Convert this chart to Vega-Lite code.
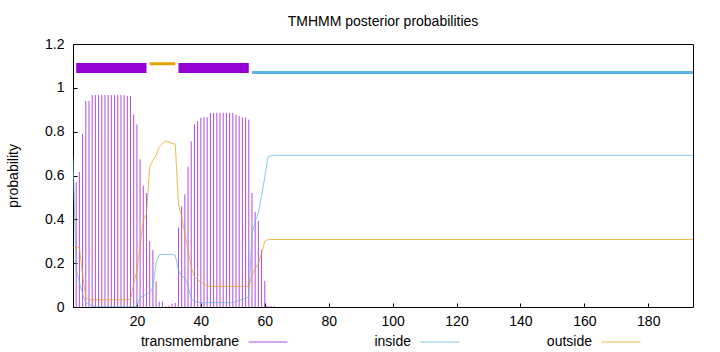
{
  "$schema": "https://vega.github.io/schema/vega-lite/v6.json",
  "width": 620,
  "height": 263,
  "autosize": {"type": "none"},
  "padding": {"left": 73, "top": 44, "right": 27, "bottom": 45},
  "title": {"text": "TMHMM posterior probabilities", "fontSize": 14, "fontWeight": "normal", "font": "Liberation Sans", "color": "#000", "offset": 8},
  "datasets": {
    "tm": [
      {"pos": 1, "p": 0.57}, {"pos": 2, "p": 0.616}, {"pos": 3, "p": 0.79}, {"pos": 4, "p": 0.94}, {"pos": 5, "p": 0.94},
      {"pos": 6, "p": 0.967}, {"pos": 7, "p": 0.967}, {"pos": 8, "p": 0.967}, {"pos": 9, "p": 0.967}, {"pos": 10, "p": 0.967},
      {"pos": 11, "p": 0.967}, {"pos": 12, "p": 0.967}, {"pos": 13, "p": 0.967}, {"pos": 14, "p": 0.967}, {"pos": 15, "p": 0.967},
      {"pos": 16, "p": 0.967}, {"pos": 17, "p": 0.963}, {"pos": 18, "p": 0.963}, {"pos": 19, "p": 0.878}, {"pos": 20, "p": 0.833},
      {"pos": 21, "p": 0.674}, {"pos": 22, "p": 0.553}, {"pos": 23, "p": 0.52}, {"pos": 24, "p": 0.3}, {"pos": 25, "p": 0.26},
      {"pos": 26, "p": 0.117}, {"pos": 27, "p": 0.024}, {"pos": 28, "p": 0.026}, {"pos": 29, "p": 0.004}, {"pos": 30, "p": 0.006},
      {"pos": 31, "p": 0.015}, {"pos": 32, "p": 0.018}, {"pos": 33, "p": 0.362}, {"pos": 34, "p": 0.46}, {"pos": 35, "p": 0.514},
      {"pos": 36, "p": 0.64}, {"pos": 37, "p": 0.756}, {"pos": 38, "p": 0.834}, {"pos": 39, "p": 0.848}, {"pos": 40, "p": 0.863},
      {"pos": 41, "p": 0.866}, {"pos": 42, "p": 0.866}, {"pos": 43, "p": 0.886}, {"pos": 44, "p": 0.886}, {"pos": 45, "p": 0.886},
      {"pos": 46, "p": 0.886}, {"pos": 47, "p": 0.886}, {"pos": 48, "p": 0.886}, {"pos": 49, "p": 0.886}, {"pos": 50, "p": 0.886},
      {"pos": 51, "p": 0.878}, {"pos": 52, "p": 0.871}, {"pos": 53, "p": 0.865}, {"pos": 54, "p": 0.865}, {"pos": 55, "p": 0.855},
      {"pos": 56, "p": 0.52}, {"pos": 57, "p": 0.434}, {"pos": 58, "p": 0.393}, {"pos": 59, "p": 0.259}, {"pos": 60, "p": 0.119},
      {"pos": 61, "p": 0.006}, {"pos": 62, "p": 0.005}, {"pos": 63, "p": 0.004}
    ],
    "lines": [
      {"series": "inside", "pos": 0, "p": 0.68}, {"series": "inside", "pos": 1, "p": 0.17}, {"series": "inside", "pos": 2, "p": 0.114},
      {"series": "inside", "pos": 3, "p": 0.06}, {"series": "inside", "pos": 4, "p": 0.02}, {"series": "inside", "pos": 5, "p": 0.015},
      {"series": "inside", "pos": 6, "p": 0.004}, {"series": "inside", "pos": 7, "p": 0.001}, {"series": "inside", "pos": 8, "p": 0.001},
      {"series": "inside", "pos": 9, "p": 0.001}, {"series": "inside", "pos": 10, "p": 0.001}, {"series": "inside", "pos": 11, "p": 0.001},
      {"series": "inside", "pos": 12, "p": 0.001}, {"series": "inside", "pos": 13, "p": 0.001}, {"series": "inside", "pos": 14, "p": 0.001},
      {"series": "inside", "pos": 15, "p": 0.001}, {"series": "inside", "pos": 16, "p": 0.001}, {"series": "inside", "pos": 17, "p": 0.001},
      {"series": "inside", "pos": 18, "p": 0.001}, {"series": "inside", "pos": 19, "p": 0.002}, {"series": "inside", "pos": 20, "p": 0.005},
      {"series": "inside", "pos": 21, "p": 0.045}, {"series": "inside", "pos": 22, "p": 0.052}, {"series": "inside", "pos": 23, "p": 0.058},
      {"series": "inside", "pos": 24, "p": 0.065}, {"series": "inside", "pos": 25, "p": 0.09}, {"series": "inside", "pos": 26, "p": 0.2},
      {"series": "inside", "pos": 27, "p": 0.238}, {"series": "inside", "pos": 28, "p": 0.24}, {"series": "inside", "pos": 29, "p": 0.24},
      {"series": "inside", "pos": 30, "p": 0.24}, {"series": "inside", "pos": 31, "p": 0.24}, {"series": "inside", "pos": 32, "p": 0.236},
      {"series": "inside", "pos": 33, "p": 0.168}, {"series": "inside", "pos": 34, "p": 0.14}, {"series": "inside", "pos": 35, "p": 0.135},
      {"series": "inside", "pos": 36, "p": 0.095}, {"series": "inside", "pos": 37, "p": 0.04}, {"series": "inside", "pos": 38, "p": 0.025},
      {"series": "inside", "pos": 39, "p": 0.022}, {"series": "inside", "pos": 40, "p": 0.021}, {"series": "inside", "pos": 41, "p": 0.02},
      {"series": "inside", "pos": 42, "p": 0.02}, {"series": "inside", "pos": 43, "p": 0.02}, {"series": "inside", "pos": 44, "p": 0.02},
      {"series": "inside", "pos": 45, "p": 0.02}, {"series": "inside", "pos": 46, "p": 0.02}, {"series": "inside", "pos": 47, "p": 0.02},
      {"series": "inside", "pos": 48, "p": 0.02}, {"series": "inside", "pos": 49, "p": 0.02}, {"series": "inside", "pos": 50, "p": 0.02},
      {"series": "inside", "pos": 51, "p": 0.025}, {"series": "inside", "pos": 52, "p": 0.03}, {"series": "inside", "pos": 53, "p": 0.035},
      {"series": "inside", "pos": 54, "p": 0.04}, {"series": "inside", "pos": 55, "p": 0.045}, {"series": "inside", "pos": 56, "p": 0.33},
      {"series": "inside", "pos": 57, "p": 0.39}, {"series": "inside", "pos": 58, "p": 0.43}, {"series": "inside", "pos": 59, "p": 0.51},
      {"series": "inside", "pos": 60, "p": 0.59}, {"series": "inside", "pos": 61, "p": 0.685}, {"series": "inside", "pos": 62, "p": 0.69},
      {"series": "inside", "pos": 63, "p": 0.692}, {"series": "inside", "pos": 194, "p": 0.692},
      {"series": "outside", "pos": 0, "p": 0.27}, {"series": "outside", "pos": 1, "p": 0.27}, {"series": "outside", "pos": 2, "p": 0.27},
      {"series": "outside", "pos": 3, "p": 0.15}, {"series": "outside", "pos": 4, "p": 0.04}, {"series": "outside", "pos": 5, "p": 0.033},
      {"series": "outside", "pos": 6, "p": 0.033}, {"series": "outside", "pos": 7, "p": 0.033}, {"series": "outside", "pos": 8, "p": 0.033},
      {"series": "outside", "pos": 9, "p": 0.033}, {"series": "outside", "pos": 10, "p": 0.033}, {"series": "outside", "pos": 11, "p": 0.033},
      {"series": "outside", "pos": 12, "p": 0.033}, {"series": "outside", "pos": 13, "p": 0.033}, {"series": "outside", "pos": 14, "p": 0.033},
      {"series": "outside", "pos": 15, "p": 0.033}, {"series": "outside", "pos": 16, "p": 0.033}, {"series": "outside", "pos": 17, "p": 0.033},
      {"series": "outside", "pos": 18, "p": 0.035}, {"series": "outside", "pos": 19, "p": 0.11}, {"series": "outside", "pos": 20, "p": 0.165},
      {"series": "outside", "pos": 21, "p": 0.28}, {"series": "outside", "pos": 22, "p": 0.395}, {"series": "outside", "pos": 23, "p": 0.425},
      {"series": "outside", "pos": 24, "p": 0.64}, {"series": "outside", "pos": 25, "p": 0.67}, {"series": "outside", "pos": 26, "p": 0.69},
      {"series": "outside", "pos": 27, "p": 0.73}, {"series": "outside", "pos": 28, "p": 0.746}, {"series": "outside", "pos": 29, "p": 0.758},
      {"series": "outside", "pos": 30, "p": 0.753}, {"series": "outside", "pos": 31, "p": 0.746}, {"series": "outside", "pos": 32, "p": 0.743},
      {"series": "outside", "pos": 33, "p": 0.47}, {"series": "outside", "pos": 34, "p": 0.41}, {"series": "outside", "pos": 35, "p": 0.335},
      {"series": "outside", "pos": 36, "p": 0.26}, {"series": "outside", "pos": 37, "p": 0.18}, {"series": "outside", "pos": 38, "p": 0.137},
      {"series": "outside", "pos": 39, "p": 0.125}, {"series": "outside", "pos": 40, "p": 0.114}, {"series": "outside", "pos": 41, "p": 0.104},
      {"series": "outside", "pos": 42, "p": 0.097}, {"series": "outside", "pos": 43, "p": 0.094}, {"series": "outside", "pos": 44, "p": 0.094},
      {"series": "outside", "pos": 45, "p": 0.094}, {"series": "outside", "pos": 46, "p": 0.094}, {"series": "outside", "pos": 47, "p": 0.094},
      {"series": "outside", "pos": 48, "p": 0.094}, {"series": "outside", "pos": 49, "p": 0.094}, {"series": "outside", "pos": 50, "p": 0.094},
      {"series": "outside", "pos": 51, "p": 0.094}, {"series": "outside", "pos": 52, "p": 0.094}, {"series": "outside", "pos": 53, "p": 0.094},
      {"series": "outside", "pos": 54, "p": 0.094}, {"series": "outside", "pos": 55, "p": 0.094}, {"series": "outside", "pos": 56, "p": 0.145},
      {"series": "outside", "pos": 57, "p": 0.175}, {"series": "outside", "pos": 58, "p": 0.198}, {"series": "outside", "pos": 59, "p": 0.244},
      {"series": "outside", "pos": 60, "p": 0.3}, {"series": "outside", "pos": 61, "p": 0.307}, {"series": "outside", "pos": 62, "p": 0.308},
      {"series": "outside", "pos": 194, "p": 0.308}
    ],
    "segments": [
      {"series": "transmembrane", "start": 1, "end": 23, "level": 1.09},
      {"series": "outside", "start": 24, "end": 32, "level": 1.11},
      {"series": "transmembrane", "start": 33, "end": 55, "level": 1.09},
      {"series": "inside", "start": 56, "end": 194, "level": 1.07}
    ]
  },
  "layer": [
    {
      "data": {"name": "tm"},
      "transform": [{"calculate": "'transmembrane'", "as": "series"}],
      "mark": {"type": "rule", "strokeWidth": 1, "opacity": 0.7},
      "encoding": {
        "x": {"field": "pos", "type": "quantitative", "scale": {"domain": [0, 194], "nice": false, "zero": false}, "axis": {"title": null, "values": [20, 40, 60, 80, 100, 120, 140, 160, 180]}},
        "y": {"field": "p", "type": "quantitative", "scale": {"domain": [0, 1.2], "nice": false}, "axis": {"title": "probability", "values": [0, 0.2, 0.4, 0.6, 0.8, 1, 1.2], "format": "~g"}},
        "y2": {"datum": 0},
        "color": {"field": "series", "type": "nominal", "scale": {"domain": ["transmembrane", "inside", "outside"], "range": ["#9400d3", "#56b4e9", "#e69f00"]}, "legend": {"title": null}}
      }
    },
    {
      "data": {"name": "lines"},
      "mark": {"type": "line", "strokeWidth": 1, "opacity": 0.7, "clip": true},
      "encoding": {
        "x": {"field": "pos", "type": "quantitative", "scale": {"domain": [0, 194], "nice": false, "zero": false}, "axis": {"title": null, "values": [20, 40, 60, 80, 100, 120, 140, 160, 180]}},
        "y": {"field": "p", "type": "quantitative", "scale": {"domain": [0, 1.2], "nice": false}, "axis": {"title": "probability", "values": [0, 0.2, 0.4, 0.6, 0.8, 1, 1.2], "format": "~g"}},
        "color": {"field": "series", "type": "nominal", "scale": {"domain": ["transmembrane", "inside", "outside"], "range": ["#9400d3", "#56b4e9", "#e69f00"]}, "legend": {"title": null}}
      }
    },
    {
      "data": {"name": "segments"},
      "transform": [{"filter": "datum.series == 'transmembrane'"}],
      "mark": {"type": "rule", "strokeWidth": 10, "clip": true},
      "encoding": {
        "x": {"field": "start", "type": "quantitative", "scale": {"domain": [0, 194], "nice": false, "zero": false}, "axis": {"title": null, "values": [20, 40, 60, 80, 100, 120, 140, 160, 180]}},
        "x2": {"field": "end"},
        "y": {"field": "level", "type": "quantitative", "scale": {"domain": [0, 1.2], "nice": false}, "axis": {"title": "probability", "values": [0, 0.2, 0.4, 0.6, 0.8, 1, 1.2], "format": "~g"}},
        "color": {"field": "series", "type": "nominal", "scale": {"domain": ["transmembrane", "inside", "outside"], "range": ["#9400d3", "#56b4e9", "#e69f00"]}, "legend": {"title": null}}
      }
    },
    {
      "data": {"name": "segments"},
      "transform": [{"filter": "datum.series != 'transmembrane'"}],
      "mark": {"type": "rule", "strokeWidth": 3, "clip": true},
      "encoding": {
        "x": {"field": "start", "type": "quantitative", "scale": {"domain": [0, 194], "nice": false, "zero": false}, "axis": {"title": null, "values": [20, 40, 60, 80, 100, 120, 140, 160, 180]}},
        "x2": {"field": "end"},
        "y": {"field": "level", "type": "quantitative", "scale": {"domain": [0, 1.2], "nice": false}, "axis": {"title": "probability", "values": [0, 0.2, 0.4, 0.6, 0.8, 1, 1.2], "format": "~g"}},
        "color": {"field": "series", "type": "nominal", "scale": {"domain": ["transmembrane", "inside", "outside"], "range": ["#9400d3", "#56b4e9", "#e69f00"]}, "legend": {"title": null}}
      }
    }
  ],
  "config": {
    "font": "Liberation Sans",
    "view": {"stroke": "#000", "strokeWidth": 1},
    "axis": {
      "grid": false,
      "domain": false,
      "labelFont": "Liberation Sans",
      "labelFontSize": 14,
      "labelColor": "#000",
      "tickColor": "#000",
      "tickSize": -4,
      "titleFont": "Liberation Sans",
      "titleFontSize": 14,
      "titleFontWeight": "normal",
      "titleColor": "#000"
    },
    "axisX": {"labelPadding": 11},
    "axisY": {"labelPadding": 13, "titlePadding": 24},
    "legend": {
      "orient": "none",
      "legendX": 175,
      "legendY": 278,
      "direction": "horizontal",
      "symbolType": "stroke",
      "symbolSize": 1521,
      "symbolStrokeWidth": 1,
      "symbolOpacity": 0.7,
      "labelAlign": "right",
      "labelOffset": -49,
      "labelFont": "Liberation Sans",
      "labelFontSize": 14,
      "labelColor": "#000",
      "columnPadding": 84
    }
  }
}
